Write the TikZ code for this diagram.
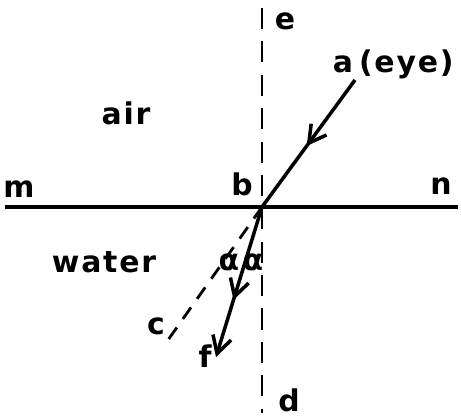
\documentclass[tikz,border=0pt]{standalone}
\usepackage{fontspec}
\setmainfont{DejaVu Sans}[LetterSpace=6]
\usetikzlibrary{arrows.meta,decorations.markings,positioning}
\tikzset{
  surface/.style ={line width=2pt},
  normalln/.style={line width=1.7pt,dash pattern=on 12pt off 7pt},
  ray/.style     ={line width=2pt},
  virtual/.style ={line width=1.6pt,dash pattern=on 8pt off 6pt},
  midarrow/.style={postaction={decorate},
                   decoration={markings,mark=at position #1 with
                   {\arrow{Straight Barb[length=3.4mm,width=3.8mm]}}}},
  lbl/.style     ={font=\fontsize{17}{20}\selectfont\bfseries,inner sep=1pt},
}
\begin{document}
\begin{tikzpicture}[x=0.02cm,y=-0.02cm]
\useasboundingbox (0,0) rectangle (461,419);
% points of the construction
\coordinate (b)  at (262,207);
\coordinate (a0) at (355,80);
\coordinate (f0) at (216,357);
\coordinate (c0) at (168,340);
\coordinate (m0) at (5,207);
\coordinate (n0) at (458,207);
\coordinate (e0) at (262,8);
\coordinate (d0) at (262,413);

% surface and normal
\draw[surface] (m0) -- (n0);
\draw[normalln] (e0) -- (d0);

% rays
\draw[ray,midarrow=0.52] (a0) -- (b);
\draw[ray,midarrow=0.62,-{Straight Barb[length=3.4mm,width=3.8mm]}] (b) -- (f0);
\draw[virtual] (b) -- (c0);

% labels
\node[lbl] (le)     at (285,21)  {e};
\node[lbl] (la)     at (343,64)  {a};
\node[lbl,right=1pt of la.east,anchor=west] (leye) {(eye)};
\node[lbl] (lair)   at (126,113) {air};
\node[lbl] (lm)     at (19,189)  {m};
\node[lbl] (ln)     at (441,186) {n};
\node[lbl] (lb)     at (242,184) {b};
\node[lbl] (lwater) at (104,262) {water};
\node[lbl] (lal1)   at (229,262) {α};
\node[lbl] (lal2)   at (253,262) {α};
\node[lbl] (lc)     at (156,326) {c};
\node[lbl] (lf)     at (205,356) {f};
\node[lbl] (ld)     at (289,400) {d};
\end{tikzpicture}
\end{document}
